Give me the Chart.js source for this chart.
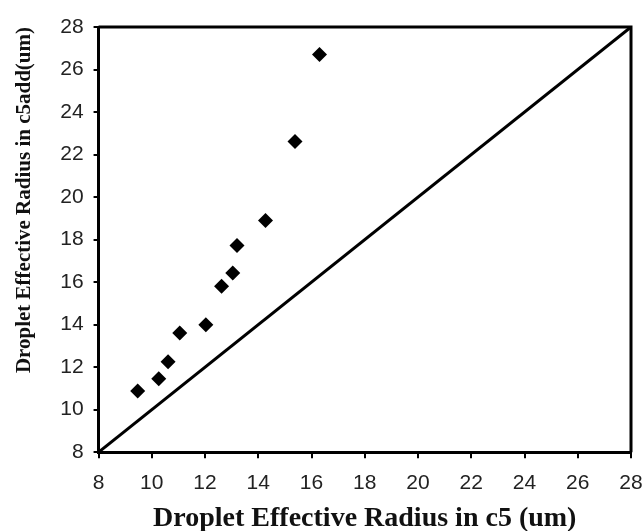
<!DOCTYPE html>
<html>
<head>
<meta charset="utf-8">
<script src="https://cdn.jsdelivr.net/npm/chart.js@4/dist/chart.umd.min.js"></script>
<style>
  html, body { margin: 0; padding: 0; background: #fff; }
  #wrap { width: 644px; height: 531px; }
</style>
</head>
<body>
<div id="wrap"><canvas id="chart"></canvas></div>
<script>
// droplet effective radius, c5 (x) vs c5add (y), in um
const c5Radius    = [9.47, 10.26, 10.61, 11.05, 12.03, 12.62, 13.04, 13.20, 14.27, 15.38, 16.30];
const c5addRadius = [10.88, 11.46, 12.26, 13.61, 14.00, 15.81, 16.43, 17.72, 18.90, 22.61, 26.71];

// 1:1 reference line
const oneToOneX = [8, 28];
const oneToOneY = [8, 28];

const axisMin = 8;
const axisMax = 28;
const axisStep = 2;

const xTitle = 'Droplet Effective Radius in c5 (um)';
const yTitle = 'Droplet Effective Radius in c5add(um)';

const points = c5Radius.map((x, i) => ({ x: x, y: c5addRadius[i] }));
const diagonal = oneToOneX.map((x, i) => ({ x: x, y: oneToOneY[i] }));

// closes the box on the top and right sides
const frame = {
  id: 'frame',
  beforeDatasetsDraw(chart) {
    const a = chart.chartArea;
    const ctx = chart.ctx;
    ctx.save();
    ctx.strokeStyle = '#000';
    ctx.lineWidth = 3;
    ctx.beginPath();
    ctx.moveTo(a.left, a.top);
    ctx.lineTo(a.right, a.top);
    ctx.lineTo(a.right, a.bottom);
    ctx.stroke();
    ctx.restore();
  }
};

const tickFont = { family: 'Liberation Sans, Arial, sans-serif', size: 21 };

new Chart(document.getElementById('chart'), {
  type: 'scatter',
  data: {
    datasets: [
      {
        label: 'c5 vs c5add',
        data: points,
        pointStyle: 'rectRot',
        pointRadius: 7.5,
        pointHoverRadius: 7.5,
        backgroundColor: '#000',
        borderColor: '#000',
        borderWidth: 0
      },
      {
        type: 'line',
        label: '1:1',
        data: diagonal,
        borderColor: '#000',
        borderWidth: 3,
        pointRadius: 0,
        fill: false
      }
    ]
  },
  options: {
    responsive: true,
    maintainAspectRatio: false,
    animation: false,
    layout: { padding: { top: 27, right: 0, left: 12, bottom: -5 } },
    plugins: {
      legend: { display: false },
      tooltip: { enabled: false }
    },
    scales: {
      x: {
        type: 'linear',
        min: axisMin,
        max: axisMax,
        afterFit(scale) { scale.paddingRight = 13; },
        ticks: { stepSize: axisStep, color: '#222', font: tickFont, padding: 12 },
        grid: { drawOnChartArea: false, drawTicks: true, tickLength: 6, color: '#000', lineWidth: 2 },
        border: { display: true, color: '#000', width: 3 },
        title: {
          display: true, text: xTitle, color: '#111',
          font: { family: 'Liberation Serif, Times New Roman, serif', size: 28, weight: 'bold' },
          padding: { top: -5, bottom: 0 }
        }
      },
      y: {
        type: 'linear',
        min: axisMin,
        max: axisMax,
        ticks: { stepSize: axisStep, color: '#222', font: tickFont, padding: 10 },
        grid: { drawOnChartArea: false, drawTicks: true, tickLength: 5, color: '#000', lineWidth: 2 },
        border: { display: true, color: '#000', width: 3 },
        title: {
          display: true, text: yTitle, color: '#111',
          font: { family: 'Liberation Serif, Times New Roman, serif', size: 21, weight: 'bold' },
          align: 'end', padding: { top: 0, bottom: 13 }
        }
      }
    }
  },
  plugins: [frame]
});
</script>
</body>
</html>
